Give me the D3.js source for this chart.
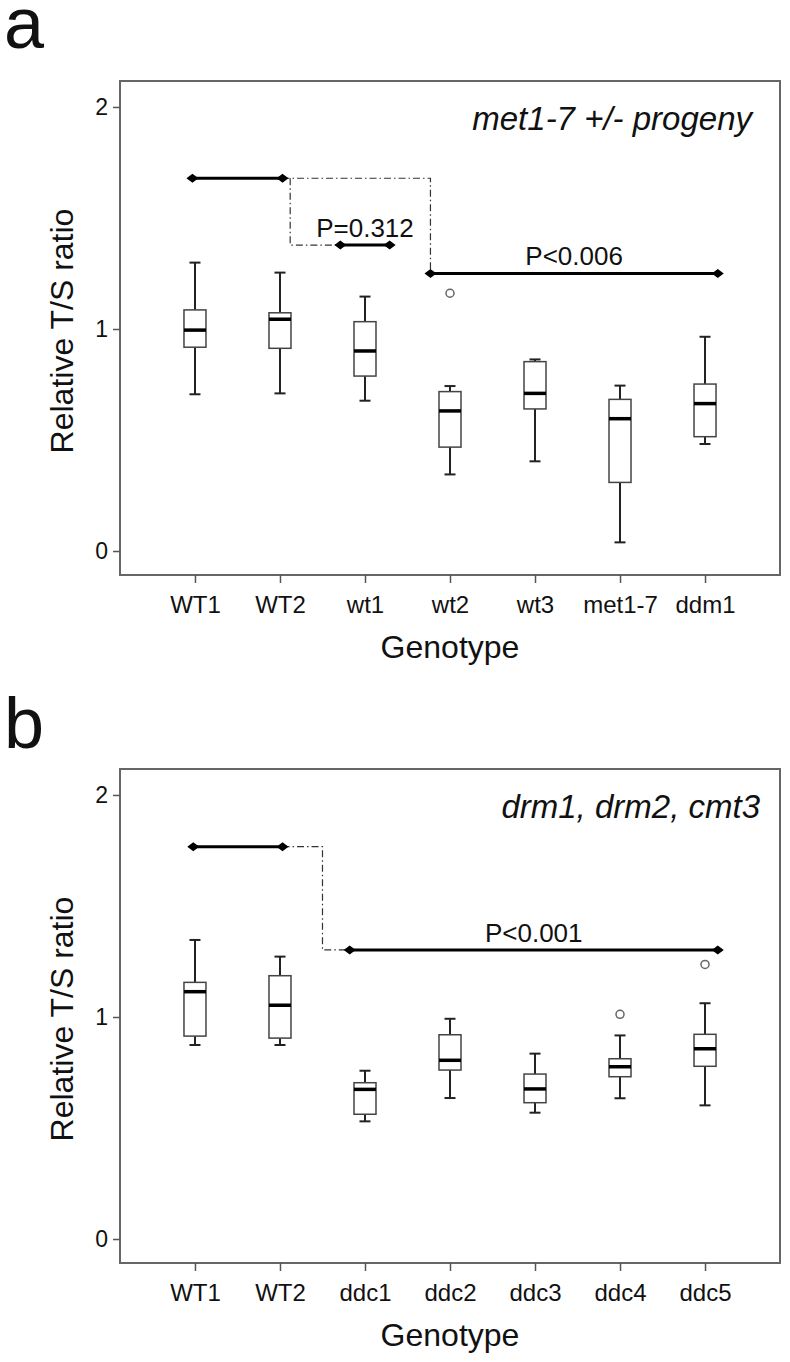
<!DOCTYPE html>
<html><head><meta charset="utf-8">
<script src="https://cdn.jsdelivr.net/npm/d3@7"></script>
<style>
body{margin:0;background:#fff}
svg{display:block}
text{font-family:"Liberation Sans",Arial,Helvetica,sans-serif;fill:#111}
</style>
</head><body>
<svg id="chart" width="790" height="1362"></svg>
<script>
// ---------- DATA ----------
const yTicks = [0, 1, 2];
const yTitle = "Relative T/S ratio";
const xTitle = "Genotype";

// Panel a
const catsA   = ["WT1","WT2","wt1","wt2","wt3","met1-7","ddm1"];
const loA     = [0.706, 0.710, 0.677, 0.345, 0.404, 0.039, 0.482];
const q1A     = [0.918, 0.913, 0.788, 0.468, 0.640, 0.309, 0.515];
const medA    = [0.995, 1.044, 0.901, 0.631, 0.710, 0.596, 0.664];
const q3A     = [1.086, 1.073, 1.033, 0.718, 0.853, 0.683, 0.752];
const hiA     = [1.299, 1.254, 1.146, 0.743, 0.863, 0.745, 0.965];
const outCatA = ["wt2"];
const outValA = [1.161];
const titleA  = "met1-7 +/- progeny";
const sigFromA  = ["WT1","wt1","wt2"];
const sigToA    = ["WT2","wt1","ddm1"];
const sigValA   = [1.679, 1.378, 1.250];
const sigLabelA = ["", "P=0.312", "P<0.006"];

// Panel b
const catsB   = ["WT1","WT2","ddc1","ddc2","ddc3","ddc4","ddc5"];
const loB     = [0.874, 0.874, 0.530, 0.635, 0.569, 0.634, 0.602];
const q1B     = [0.914, 0.905, 0.562, 0.761, 0.614, 0.731, 0.778];
const medB    = [1.114, 1.053, 0.674, 0.805, 0.676, 0.776, 0.857];
const q3B     = [1.156, 1.186, 0.704, 0.920, 0.743, 0.812, 0.922];
const hiB     = [1.347, 1.272, 0.758, 0.992, 0.835, 0.917, 1.062];
const outCatB = ["ddc4","ddc5"];
const outValB = [1.012, 1.237];
const titleB  = "drm1, drm2, cmt3";
const sigFromB  = ["WT1","ddc1"];
const sigToB    = ["WT2","ddc5"];
const sigValB   = [1.767, 1.302];
const sigLabelB = ["", "P<0.001"];

// ---------- LAYOUT ----------
const svg = d3.select("#chart");
const L = 120, R = 780, H = 494;
const yDomain = [-0.108, 2.117];

function drawPanel(cfg) {
  const top = cfg.top, bottom = top + H;
  const g = svg.append("g");
  const x = d3.scalePoint().domain(cfg.cats).range([L, R]).padding(0.882);
  const y = d3.scaleLinear().domain(yDomain).range([bottom, top]);
  const step = x.step();

  // panel letter
  svg.append("text").attr("x", 4).attr("y", cfg.letterY)
    .style("font-size", "72px").text(cfg.letter);

  // frame
  g.append("rect").attr("x", L).attr("y", top).attr("width", R - L).attr("height", H)
    .attr("fill", "none").attr("stroke", "#666").attr("stroke-width", 2);

  // y axis
  const ya = g.append("g").attr("transform", `translate(${L},0)`)
    .call(d3.axisLeft(y).tickValues(yTicks).tickSize(7).tickPadding(5).tickFormat(d3.format("d")));
  ya.select(".domain").remove();
  ya.selectAll(".tick line").attr("stroke", "#555").attr("stroke-width", 1.5);
  ya.selectAll(".tick text").style("font-size", "23px").attr("fill", "#111");

  // x axis
  const xa = g.append("g").attr("transform", `translate(0,${bottom})`)
    .call(d3.axisBottom(x).tickSize(8).tickPadding(13));
  xa.select(".domain").remove();
  xa.selectAll(".tick line").attr("stroke", "#555").attr("stroke-width", 1.5);
  xa.selectAll(".tick text").style("font-size", "24px").attr("fill", "#111");

  // axis titles
  g.append("text").attr("text-anchor", "middle")
    .attr("transform", `translate(73,${(top + bottom) / 2 + 3}) rotate(-90)`)
    .style("font-size", "32px").text(yTitle);
  g.append("text").attr("text-anchor", "middle")
    .attr("x", (L + R) / 2).attr("y", bottom + 83)
    .style("font-size", "32px").text(xTitle);

  // inner title
  g.append("text").attr("text-anchor", "end")
    .attr("x", cfg.titleX).attr("y", top + 49)
    .style("font-size", "33px").style("font-style", "italic").text(cfg.title);

  // boxes
  const bw = 22, cw = 11;
  const rows = cfg.cats.map((c, i) => ({c, lo: cfg.lo[i], q1: cfg.q1[i], med: cfg.med[i], q3: cfg.q3[i], hi: cfg.hi[i]}));
  const bx = g.append("g").selectAll("g").data(rows).join("g")
    .attr("transform", d => `translate(${x(d.c)},0)`);
  bx.append("line").attr("y1", d => y(d.hi)).attr("y2", d => y(d.q3))
    .attr("stroke", "#222").attr("stroke-width", 2);
  bx.append("line").attr("y1", d => y(d.q1)).attr("y2", d => y(d.lo))
    .attr("stroke", "#222").attr("stroke-width", 2);
  bx.append("line").attr("x1", -cw / 2).attr("x2", cw / 2).attr("y1", d => y(d.hi)).attr("y2", d => y(d.hi))
    .attr("stroke", "#222").attr("stroke-width", 2);
  bx.append("line").attr("x1", -cw / 2).attr("x2", cw / 2).attr("y1", d => y(d.lo)).attr("y2", d => y(d.lo))
    .attr("stroke", "#222").attr("stroke-width", 2);
  bx.append("rect").attr("x", -bw / 2).attr("width", bw)
    .attr("y", d => y(d.q3)).attr("height", d => y(d.q1) - y(d.q3))
    .attr("fill", "#fff").attr("stroke", "#444").attr("stroke-width", 1.5);
  bx.append("line").attr("x1", -bw / 2).attr("x2", bw / 2).attr("y1", d => y(d.med)).attr("y2", d => y(d.med))
    .attr("stroke", "#000").attr("stroke-width", 3.5);

  // outliers
  g.append("g").selectAll("circle").data(cfg.outCat.map((c, i) => ({c, v: cfg.outVal[i]}))).join("circle")
    .attr("cx", d => x(d.c)).attr("cy", d => y(d.v)).attr("r", 4)
    .attr("fill", "none").attr("stroke", "#666").attr("stroke-width", 1.5);

  // significance bars
  const dashStyle = "7,3,1.5,3";
  const bars = cfg.sigFrom.map((f, i) => ({
    x0: x(f) + cfg.sigOff[i][0] * step,
    x1: x(cfg.sigTo[i]) + cfg.sigOff[i][1] * step,
    yy: y(cfg.sigVal[i]), label: cfg.sigLabel[i]
  }));
  cfg.connectors.forEach(cn => {
    const pts = cn(bars, x, step);
    g.append("path").attr("d", d3.line()(pts)).attr("fill", "none")
      .attr("stroke", "#333").attr("stroke-width", 1.2).attr("stroke-dasharray", dashStyle);
  });
  const sb = g.append("g").selectAll("g").data(bars).join("g");
  sb.append("line").attr("x1", d => d.x0).attr("x2", d => d.x1).attr("y1", d => d.yy).attr("y2", d => d.yy)
    .attr("stroke", "#000").attr("stroke-width", 3);
  const diamond = (cx, cy) => `M${cx - 6},${cy}L${cx},${cy - 4.5}L${cx + 6},${cy}L${cx},${cy + 4.5}Z`;
  sb.append("path").attr("d", d => diamond(d.x0, d.yy) + diamond(d.x1, d.yy)).attr("fill", "#000");
  sb.filter(d => d.label).append("text").attr("text-anchor", "middle")
    .attr("x", d => (d.x0 + d.x1) / 2).attr("y", d => d.yy - 8)
    .style("font-size", "26px").text(d => d.label);
}

drawPanel({
  top: 81, letter: "a", letterY: 48, titleX: 752, title: titleA,
  cats: catsA, lo: loA, q1: q1A, med: medA, q3: q3A, hi: hiA,
  outCat: outCatA, outVal: outValA,
  sigFrom: sigFromA, sigTo: sigToA, sigVal: sigValA, sigLabel: sigLabelA,
  sigOff: [[-0.03, 0.03], [-0.29, 0.29], [-0.23, 0.15]],
  connectors: [
    (b) => [[b[0].x1, b[0].yy], [b[2].x0, b[0].yy], [b[2].x0, b[2].yy]],
    (b, x, s) => [[x("WT2") + 0.12 * s, b[0].yy], [x("WT2") + 0.12 * s, b[1].yy], [b[1].x0, b[1].yy]]
  ]
});

drawPanel({
  top: 769, letter: "b", letterY: 748, titleX: 760, title: titleB,
  cats: catsB, lo: loB, q1: q1B, med: medB, q3: q3B, hi: hiB,
  outCat: outCatB, outVal: outValB,
  sigFrom: sigFromB, sigTo: sigToB, sigVal: sigValB, sigLabel: sigLabelB,
  sigOff: [[-0.02, 0.03], [-0.18, 0.15]],
  connectors: [
    (b, x, s) => {
      const mx = (x("WT2") + x("ddc1")) / 2;
      return [[b[0].x1, b[0].yy], [mx, b[0].yy], [mx, b[1].yy], [b[1].x0, b[1].yy]];
    }
  ]
});
</script>
</body></html>
